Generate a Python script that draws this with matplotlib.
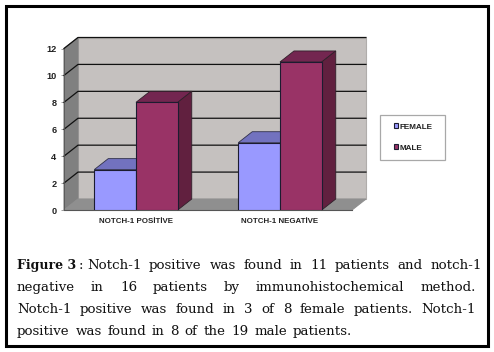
import matplotlib
matplotlib.use("Agg")
import matplotlib.pyplot as plt
from matplotlib.patches import Polygon, Rectangle

W = 494
H = 352

categories = ["NOTCH-1 POSİTİVE", "NOTCH-1 NEGATİVE"]
female = [3, 5]
male = [8, 11]
y_ticks = [0, 2, 4, 6, 8, 10, 12]
caption_lines = [
    "Notch-1 positive was found in 11 patients and notch-1",
    "negative in 16 patients by immunohistochemical method.",
    "Notch-1 positive was found in 3 of 8 female patients. Notch-1",
    "positive was found in 8 of the 19 male patients.",
]

BAR_W = 0.29
DX = 14 / 144   # depth of the fake 3d, in x units
DY = 11 / 13.46  # and in y units

fig = plt.figure(figsize=(W / 100, H / 100), dpi=100)
fig.patch.set_facecolor("white")


def fx(px):
    return px / W


def fy(py):
    return 1 - py / H


# black frame round the whole figure
fig.add_artist(Rectangle((fx(6), fy(346)), fx(482), 340 / H, transform=fig.transFigure,
                         fill=False, edgecolor="black", linewidth=2.2))
# legend box is drawn apart, its padding differs across and down
fig.add_artist(Rectangle((fx(379.5), fy(159.5)), fx(65), 44.5 / H, transform=fig.transFigure,
                         fill=False, edgecolor="#a8a8a8", linewidth=0.9))

ax = fig.add_axes([fx(64), fy(210), fx(288), (210 - 48.5) / H])
ax.set_xlim(-0.5, 1.5)
ax.set_ylim(0, 12)
for s in ax.spines.values():
    s.set_visible(False)


def poly(points, color, z, edge=None, lw=0.8):
    ax.add_patch(Polygon(points, closed=True, facecolor=color, edgecolor=edge if edge else color,
                         linewidth=lw, zorder=z, clip_on=False))


# walls and floor
poly([(-0.5 + DX, DY), (1.5 + DX, DY), (1.5 + DX, 12 + DY), (-0.5 + DX, 12 + DY)], "#c5c1bf", 1, "#b0adab")
poly([(-0.5, 0), (-0.5 + DX, DY), (-0.5 + DX, 12 + DY), (-0.5, 12)], "#808080", 1)
poly([(-0.5, 0), (1.5, 0), (1.5 + DX, DY), (-0.5 + DX, DY)], "#8f8f8f", 1)

# grid lines, along the back wall and down the left wall
for v in y_ticks[1:]:
    ax.plot([-0.5, -0.5 + DX, 1.5 + DX], [v, v + DY, v + DY], color="#111111", lw=0.9, zorder=2,
            clip_on=False)
ax.plot([-0.5, 1.5], [0, 0], color="#555555", lw=0.8, zorder=2, clip_on=False)
ax.plot([-0.5, -0.5], [0, 12], color="#555555", lw=0.6, zorder=2, clip_on=False)

# bars
x_pos = list(range(len(categories)))
h1 = ax.bar([x - BAR_W / 2 for x in x_pos], female, BAR_W, color="#9999ff", edgecolor="#1c1c30",
            linewidth=0.8, zorder=4, label="FEMALE")
h2 = ax.bar([x + BAR_W / 2 for x in x_pos], male, BAR_W, color="#993366", edgecolor="#1c1c30",
            linewidth=0.8, zorder=6, label="MALE")

for x, v in zip(x_pos, female):
    l = x - BAR_W
    r = x
    poly([(l, v), (r, v), (r + DX, v + DY), (l + DX, v + DY)], "#7272bf", 3, "#30304a", 0.6)
for x, v in zip(x_pos, male):
    l = x
    r = x + BAR_W
    poly([(l, v), (r, v), (r + DX, v + DY), (l + DX, v + DY)], "#732650", 5, "#30202a", 0.6)
    poly([(r, 0), (r + DX, DY), (r + DX, v + DY), (r, v)], "#61203f", 5, "#30202a", 0.6)

ax.set_yticks(y_ticks)
ax.set_xticks(x_pos)
ax.set_xticklabels(categories, fontsize=5.7, fontweight="bold", family="Liberation Sans", color="#222222")
ax.tick_params(axis="y", length=2, width=0.5, color="#777777", pad=3.5, labelsize=6.6, labelcolor="#222222")
ax.tick_params(axis="x", length=0, pad=5.5)
for t in ax.get_yticklabels():
    t.set_family("Liberation Sans")
    t.set_fontweight("bold")

leg = ax.legend(handles=[h1, h2], loc="center left", bbox_to_anchor=(fx(393.5), fy(137.5)),
                bbox_transform=fig.transFigure, frameon=False,
                prop={"family": "Liberation Sans", "weight": "bold", "size": 5.9},
                handlelength=0.5, handleheight=0.5, handletextpad=0.2, labelspacing=1.65,
                borderpad=0, borderaxespad=0)
leg.set_zorder(10)
for t in leg.get_texts():
    t.set_color("#222222")

# caption, the words are spread out by hand to get the justified lines
renderer = fig.canvas.get_renderer()
CAP = {"family": "DejaVu Serif", "fontsize": 9.6, "color": "#111111"}
label = fig.text(fx(17), fy(269), "Figure 3", fontweight="bold", va="baseline",
                 family="DejaVu Serif", fontsize=9.0, color="#111111")
fig.text(fx(79), fy(269), ":", va="baseline", **CAP)

starts = [87, 17, 17, 17]
ends = [482, 475.5, 476, 352]
baselines = [269, 291, 313, 335]
for line, x0, x1, base in zip(caption_lines, starts, ends, baselines):
    words = line.split(" ")
    texts = [fig.text(fx(x0), fy(base), w, va="baseline", **CAP) for w in words]
    widths = [t.get_window_extent(renderer).width for t in texts]
    gap = (x1 - x0 - sum(widths)) / (len(words) - 1)
    x = x0
    for t, w in zip(texts, widths):
        t.set_x(fx(x))
        x += w + gap

fig.savefig("out.png", dpi=100)
